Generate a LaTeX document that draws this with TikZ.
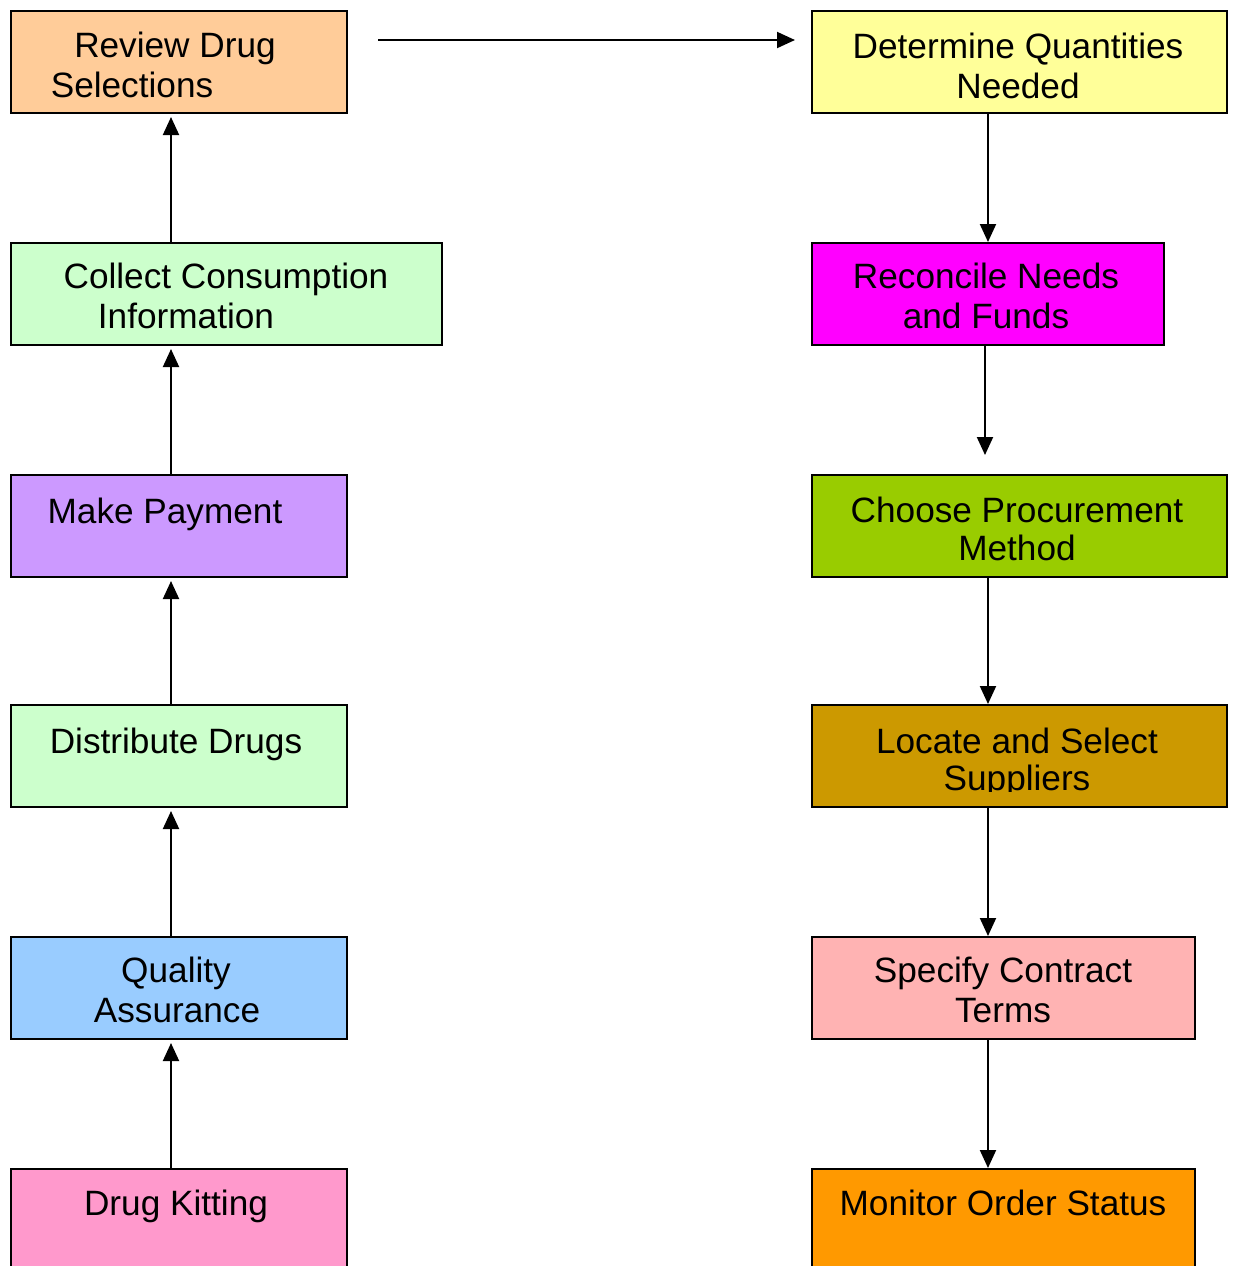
\documentclass[tikz,border=0pt]{standalone}
\usepackage{fontspec}
\setmainfont{Liberation Sans}
\usetikzlibrary{positioning, arrows.meta, calc}
\definecolor{peach}{HTML}{FFCC99}
\definecolor{paleyellow}{HTML}{FFFF99}
\definecolor{mint}{HTML}{CCFFCC}
\definecolor{lavender}{HTML}{CC99FF}
\definecolor{skyblue}{HTML}{99CCFF}
\definecolor{rose}{HTML}{FF99CC}
\definecolor{fuchsia}{HTML}{FF00FF}
\definecolor{lime}{HTML}{99CC00}
\definecolor{gold}{HTML}{CC9900}
\definecolor{salmon}{HTML}{FFB3B3}
\definecolor{tangerine}{HTML}{FF9900}
\tikzset{
        stage-box/.style={
            draw, rectangle, fill=#1, line width=1pt, inner sep=0pt, anchor=north west, minimum height=51pt
        },
        stage-text/.style={
            anchor=base, inner sep=0pt, font=\fontsize{17.6pt}{20pt}\selectfont
        },
        flow/.style={
            draw, line width=1pt, -{Triangle[width=8pt,length=9pt]}
        },
}
\begin{document}
\begin{tikzpicture}[x=0.5pt, y=-0.5pt]

        \useasboundingbox (0,0) rectangle (1234,1266);
        \clip (0,0) rectangle (1234,1266);

        %DRAW BOXES (left column from the top, right column from the top)
        \node [stage-box=peach, minimum width=168pt]      (REVIEW)  at (10,10)                         {};
        \node [stage-box=mint, minimum width=215.5pt]     (COLLECT) at ($(REVIEW.north west)+(0,232)$)  {};
        \node [stage-box=lavender, minimum width=168pt]   (PAY)     at ($(COLLECT.north west)+(0,232)$) {};
        \node [stage-box=mint, minimum width=168pt]       (DIST)    at ($(PAY.north west)+(0,230)$)     {};
        \node [stage-box=skyblue, minimum width=168pt]    (QA)      at ($(DIST.north west)+(0,232)$)    {};
        \node [stage-box=rose, minimum width=168pt]       (KIT)     at ($(QA.north west)+(0,232)$)      {};

        \node [stage-box=paleyellow, minimum width=207.5pt] (QTY)     at (811,10)                       {};
        \node [stage-box=fuchsia, minimum width=176pt]      (RECON)   at ($(QTY.north west)+(0,232)$)    {};
        \node [stage-box=lime, minimum width=207.5pt]       (METHOD)  at ($(RECON.north west)+(0,232)$)  {};
        \node [stage-box=gold, minimum width=207.5pt]       (SUPPL)   at ($(METHOD.north west)+(0,230)$) {};
        \node [stage-box=salmon, minimum width=191.5pt]     (TERMS)   at ($(SUPPL.north west)+(0,232)$)  {};
        \node [stage-box=tangerine, minimum width=191.5pt]  (MONITOR) at ($(TERMS.north west)+(0,232)$)  {};

        %DRAW TEXTS (one node per line, relative to the box corner)
        \node [stage-text] (REVIEW-1)  at ($(REVIEW.north west)+(165,47)$)  {Review Drug};
        \node [stage-text] (REVIEW-2)  at ($(REVIEW.north west)+(122,87)$)  {Selections};
        \node [stage-text] (COLLECT-1) at ($(COLLECT.north west)+(216,46)$) {Collect Consumption};
        \node [stage-text] (COLLECT-2) at ($(COLLECT.north west)+(176,86)$) {Information};
        \node [stage-text] (PAY-1)     at ($(PAY.north west)+(155,49)$)     {Make Payment};
        \node [stage-text] (DIST-1)    at ($(DIST.north west)+(166,49)$)    {Distribute Drugs};
        \node [stage-text] (QA-1)      at ($(QA.north west)+(166,46)$)      {Quality};
        \node [stage-text] (QA-2)      at ($(QA.north west)+(167,86)$)      {Assurance};
        \node [stage-text] (KIT-1)     at ($(KIT.north west)+(166,47)$)     {Drug Kitting};

        \node [stage-text] (QTY-1)     at ($(QTY.north west)+(207,48)$)     {Determine Quantities};
        \node [stage-text] (QTY-2)     at ($(QTY.north west)+(207,88)$)     {Needed};
        \node [stage-text] (RECON-1)   at ($(RECON.north west)+(175,46)$)   {Reconcile Needs};
        \node [stage-text] (RECON-2)   at ($(RECON.north west)+(175,86)$)   {and Funds};
        \node [stage-text] (METHOD-1)  at ($(METHOD.north west)+(206,48)$)  {Choose Procurement};
        \node [stage-text] (METHOD-2)  at ($(METHOD.north west)+(206,86)$)  {Method};
        \node [stage-text] (SUPPL-1)   at ($(SUPPL.north west)+(206,49)$)   {Locate and Select};
        \begin{scope}
            \clip (SUPPL.north west) rectangle ($(SUPPL.north east)+(0,87)$);
            \node [stage-text] (SUPPL-2) at ($(SUPPL.north west)+(206,86)$) {Suppliers};
        \end{scope}
        \node [stage-text] (TERMS-1)   at ($(TERMS.north west)+(192,46)$)   {Specify Contract};
        \node [stage-text] (TERMS-2)   at ($(TERMS.north west)+(192,86)$)   {Terms};
        \node [stage-text] (MONITOR-1) at ($(MONITOR.north west)+(192,47)$) {Monitor Order Status};

        % CONNECT LEFT COLUMN (upwards)
        \coordinate (LEFTX) at (171,0);
        \draw [flow, shorten >=1.5pt] (COLLECT.north -| LEFTX) -- (REVIEW.south -| LEFTX);
        \draw [flow, shorten >=1.5pt] (PAY.north -| LEFTX)     -- (COLLECT.south -| LEFTX);
        \draw [flow, shorten >=1.5pt] (DIST.north -| LEFTX)    -- (PAY.south -| LEFTX);
        \draw [flow, shorten >=1.5pt] (QA.north -| LEFTX)      -- (DIST.south -| LEFTX);
        \draw [flow, shorten >=1.5pt] (KIT.north -| LEFTX)     -- (QA.south -| LEFTX);

        % CONNECT TOP ROW
        \draw [flow] ($(REVIEW.north east)+(30,30)$) -- ($(QTY.north west)+(-16,30)$);

        % CONNECT RIGHT COLUMN (downwards)
        \draw [flow] (QTY.south -| RECON)    -- (RECON.north);
        \draw [flow, shorten >=9.5pt] ([xshift=-1.5pt]RECON.south) -- ([xshift=-1.5pt]RECON.south |- METHOD.north);
        \draw [flow] (METHOD.south -| RECON) -- (SUPPL.north -| RECON);
        \draw [flow] (SUPPL.south -| RECON)  -- (TERMS.north -| RECON);
        \draw [flow] (TERMS.south -| RECON)  -- (MONITOR.north -| RECON);

\end{tikzpicture}
\end{document}
